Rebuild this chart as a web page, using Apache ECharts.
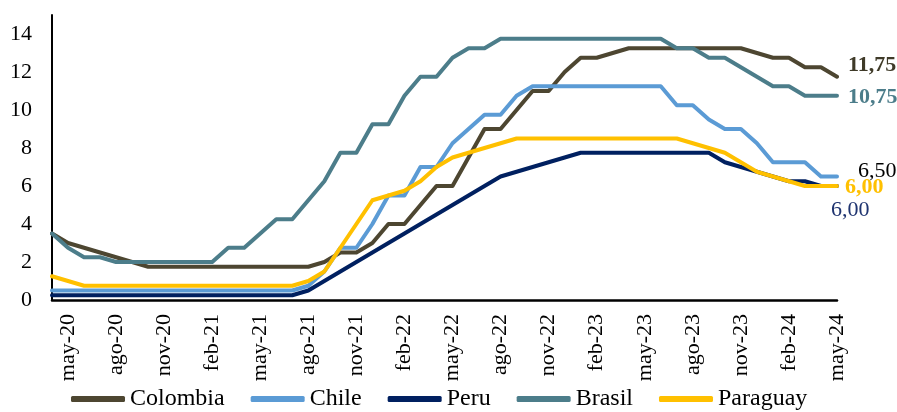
<!DOCTYPE html>
<html>
<head>
<meta charset="utf-8">
<script src="https://cdn.jsdelivr.net/npm/echarts@6/dist/echarts.min.js"></script>
<style>
  html, body { margin: 0; padding: 0; background: #fff; }
  #chart { width: 897px; height: 412px; }
</style>
</head>
<body>
<div id="chart"></div>
<script>
// meses (abr-20 .. may-24)
const months = [
  'abr-20', 'may-20', 'jun-20', 'jul-20', 'ago-20', 'sep-20', 'oct-20', 'nov-20', 'dic-20',
  'ene-21', 'feb-21', 'mar-21', 'abr-21', 'may-21', 'jun-21', 'jul-21', 'ago-21', 'sep-21', 'oct-21', 'nov-21', 'dic-21',
  'ene-22', 'feb-22', 'mar-22', 'abr-22', 'may-22', 'jun-22', 'jul-22', 'ago-22', 'sep-22', 'oct-22', 'nov-22', 'dic-22',
  'ene-23', 'feb-23', 'mar-23', 'abr-23', 'may-23', 'jun-23', 'jul-23', 'ago-23', 'sep-23', 'oct-23', 'nov-23', 'dic-23',
  'ene-24', 'feb-24', 'mar-24', 'abr-24', 'may-24'
]

const colombia = [
  3.5, 3.0, 2.75, 2.5, 2.25, 2.0,
  1.75, 1.75, 1.75, 1.75, 1.75, 1.75, 1.75, 1.75, 1.75, 1.75, 1.75,
  2.0, 2.5, 2.5, 3.0, 4.0, 4.0, 5.0, 6.0, 6.0, 7.5, 9.0, 9.0, 10.0, 11.0, 11.0, 12.0, 12.75, 12.75, 13.0,
  13.25, 13.25, 13.25, 13.25, 13.25, 13.25, 13.25, 13.25,
  13.0, 12.75, 12.75, 12.25, 12.25, 11.75
]

const chile = [
  0.5, 0.5, 0.5, 0.5, 0.5, 0.5, 0.5, 0.5, 0.5, 0.5, 0.5, 0.5, 0.5, 0.5, 0.5, 0.5,
  0.75, 1.5, 2.75, 2.75, 4.0, 5.5, 5.5, 7.0, 7.0, 8.25, 9.0, 9.75, 9.75, 10.75,
  11.25, 11.25, 11.25, 11.25, 11.25, 11.25, 11.25, 11.25, 11.25,
  10.25, 10.25, 9.5, 9.0, 9.0, 8.25, 7.25, 7.25, 7.25, 6.5, 6.5
]

const peru = [
  0.25, 0.25, 0.25, 0.25, 0.25, 0.25, 0.25, 0.25, 0.25, 0.25, 0.25, 0.25, 0.25, 0.25, 0.25, 0.25,
  0.5, 1.0, 1.5, 2.0, 2.5, 3.0, 3.5, 4.0, 4.5, 5.0, 5.5, 6.0, 6.5,
  6.75, 7.0, 7.25, 7.5,
  7.75, 7.75, 7.75, 7.75, 7.75, 7.75, 7.75, 7.75, 7.75,
  7.25, 7.0, 6.75, 6.5, 6.25, 6.25, 6.0, 6.0
]

const brasil = [
  3.5, 2.75, 2.25, 2.25,
  2.0, 2.0, 2.0, 2.0, 2.0, 2.0, 2.0,
  2.75, 2.75, 3.5, 4.25, 4.25, 5.25, 6.25, 7.75, 7.75, 9.25, 9.25, 10.75, 11.75, 11.75, 12.75, 13.25, 13.25,
  13.75, 13.75, 13.75, 13.75, 13.75, 13.75, 13.75, 13.75, 13.75, 13.75, 13.75,
  13.25, 13.25, 12.75, 12.75, 12.25, 11.75, 11.25, 11.25, 10.75, 10.75, 10.75
]

const paraguay = [
  1.25, 1.0,
  0.75, 0.75, 0.75, 0.75, 0.75, 0.75, 0.75, 0.75, 0.75, 0.75, 0.75, 0.75, 0.75, 0.75,
  1.0, 1.5, 2.75, 4.0, 5.25, 5.5, 5.75, 6.25, 7.0, 7.5, 7.75, 8.0, 8.25,
  8.5, 8.5, 8.5, 8.5, 8.5, 8.5, 8.5, 8.5, 8.5, 8.5, 8.5,
  8.25, 8.0, 7.75, 7.25, 6.75, 6.5, 6.25, 6.0, 6.0, 6.0
]

const FONT = '"Liberation Serif", "DejaVu Serif", serif'

const fmt = v => v.toFixed(2).replace('.', ',')

const makeSeries = (name, data, color, label) => ({
  name,
  type: 'line',
  data,
  symbol: 'none',
  lineStyle: { width: 4, color, cap: 'round', join: 'round' },
  itemStyle: { color },
  endLabel: {
    show: true,
    formatter: p => fmt(p.value),
    fontFamily: FONT,
    fontSize: 22,
    color: label.color,
    fontWeight: label.bold ? 'bold' : 'normal',
    offset: label.offset
  }
})

const chart = echarts.init(document.getElementById('chart'))

chart.setOption({
  animation: false,
  grid: { left: 52, right: 60, top: 15, bottom: 112, containLabel: false },
  legend: {
    top: 382,
    left: 66,
    icon: 'roundRect',
    itemWidth: 54,
    itemHeight: 6,
    itemGap: 26,
    textStyle: { fontFamily: FONT, fontSize: 24, color: '#000' },
    data: ['Colombia', 'Chile', 'Peru', 'Brasil', 'Paraguay']
  },
  xAxis: {
    type: 'category',
    data: months,
    boundaryGap: false,
    axisLine: { lineStyle: { color: '#000', width: 2.5 } },
    axisTick: { show: false },
    axisLabel: {
      rotate: 90,
      margin: 14,
      interval: idx => idx % 3 === 1,
      fontFamily: FONT,
      fontSize: 22,
      color: '#000'
    },
    splitLine: { show: false }
  },
  yAxis: {
    type: 'value',
    min: 0,
    max: 15,
    interval: 2,
    axisLine: { show: true, lineStyle: { color: '#000', width: 2 } },
    axisTick: { show: false },
    splitLine: { show: false },
    axisLabel: {
      showMaxLabel: false,
      margin: 20,
      fontFamily: FONT,
      fontSize: 22,
      color: '#000'
    }
  },
  series: [
    makeSeries('Colombia', colombia, '#4d4631', { color: '#3f3a28', bold: true, offset: [3, -11] }),
    makeSeries('Chile', chile, '#5b9bd5', { color: '#000', bold: false, offset: [13, -5] }),
    makeSeries('Peru', peru, '#002060', { color: '#1f3470', bold: false, offset: [-14, 24] }),
    makeSeries('Brasil', brasil, '#4c7d8a', { color: '#4c7d8a', bold: true, offset: [3, 2] }),
    makeSeries('Paraguay', paraguay, '#ffc000', { color: '#ffc000', bold: true, offset: [0, 1] })
  ]
})
</script>
</body>
</html>
